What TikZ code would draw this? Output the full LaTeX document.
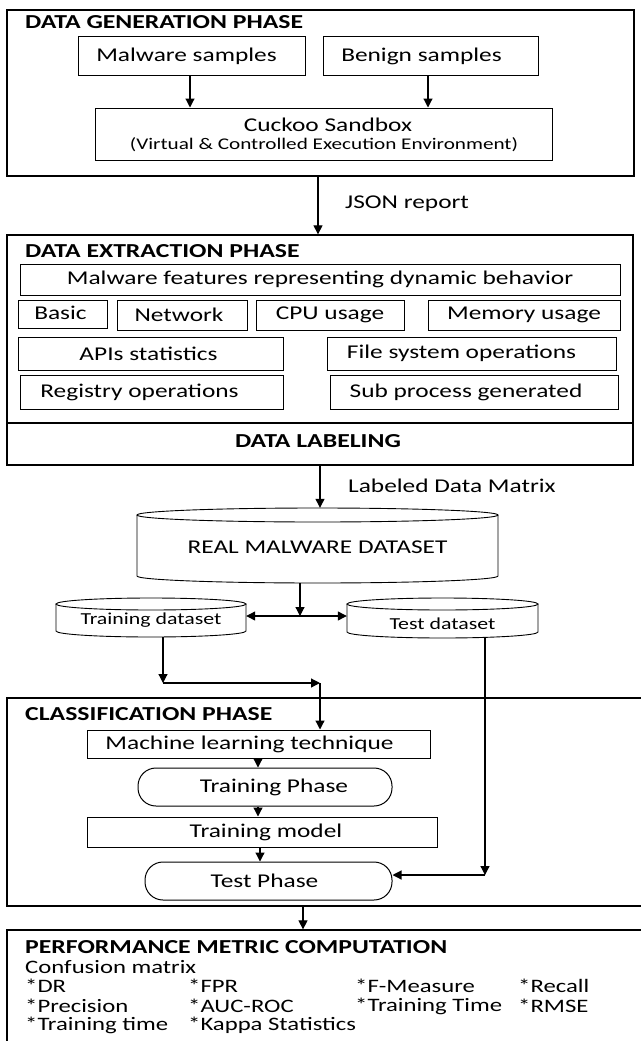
\documentclass[tikz,border=0pt]{standalone}
\usepackage{fontspec}
\setmainfont{Carlito}[FakeStretch=1.3]
\usetikzlibrary{arrows.meta,calc}
\tikzset{
  phasebox/.style={draw, line width=1.3pt, inner sep=0pt},
  itembox/.style={draw, line width=1pt, inner sep=0pt, font=\fontsize{19.5}{21}\selectfont},
  stadium/.style={draw, line width=1pt, inner sep=0pt, rounded corners=18pt, font=\fontsize{19.5}{21}\selectfont},
  ttl/.style={font=\bfseries\fontsize{19.8}{21}\selectfont, anchor=west, inner sep=0pt},
  lbl/.style={font=\fontsize{19.5}{21}\selectfont, anchor=west, inner sep=0pt},
  met/.style={font=\fontsize{19}{21}\selectfont, anchor=west, inner sep=0pt},
  arr/.style={line width=1.2pt, -{Triangle[length=9pt,width=9pt]}},
  cylline/.style={line width=0.9pt},
}
% \boxat{style}{name}{x1}{y1}{x2}{y2}{text}
\newcommand\boxat[7]{\node[#1, minimum width={(#5-#3)*1pt}, minimum height={(#6-#4)*1pt}] (#2) at ({(#3+#5)/2},{(#4+#6)/2}) {#7};}
% \sh{dx}{text} : shift text horizontally inside its box
\newcommand\sh[2]{\hspace*{#1pt}#2\hspace*{-#1pt}}
% \cylat{name}{x1}{y1}{x2}{y2}{ry}{font}{text}{texty}
\newcommand\cylat[9]{%
  \draw[cylline] ({(#2+#4)/2},{#3+#6}) ellipse [x radius={(#4-#2)/2*1pt}, y radius={#6*1pt}];
  \draw[cylline] (#2,{#3+#6}) -- (#2,{#5-#6}) arc [start angle=180, end angle=360, x radius={(#4-#2)/2*1pt}, y radius={#6*1pt}] -- (#4,{#3+#6});
  \node[inner sep=0pt, minimum width={(#4-#2)*1pt}, minimum height={(#5-#3)*1pt}] (#1) at ({(#2+#4)/2},{(#3+#5)/2}) {};
  \node[inner sep=0pt, font=#7] (#1-t) at ({(#2+#4)/2},#9) {#8};
}
\begin{document}
\begin{tikzpicture}[x=1pt,y=-1pt]
\useasboundingbox[fill=white] (0,0) rectangle (640,1041);

% ---------- Data generation phase
\boxat{phasebox}{gen}{7}{10}{634}{176}{}
\node[ttl] (genT) at (25,22) {DATA GENERATION PHASE};
\boxat{itembox}{mal}{78}{37}{305}{75}{\sh{-5}{Malware samples}}
\boxat{itembox}{ben}{323}{37}{538}{75}{\sh{-9}{Benign samples}}
\boxat{itembox}{cuc}{95}{108}{552}{160}{}
\node[inner sep=0pt, font=\fontsize{19.5}{21}\selectfont] (cucA) at (328,125) {Cuckoo Sandbox};
\node[inner sep=0pt, font=\fontsize{16.3}{18}\selectfont] (cucB) at (324,145) {(Virtual \& Controlled Execution Environment)};
\coordinate (malx) at (190,0);
\coordinate (benx) at (428,0);
\draw[arr] (mal.south -| malx) -- (malx |- cuc.north);
\draw[arr] (ben.south -| benx) -- (benx |- cuc.north);

% ---------- JSON report
\coordinate (jx) at (318,0);
\node[lbl] (json) at (345,204) {JSON report};

% ---------- Data extraction phase
\boxat{phasebox}{ext}{7}{235}{633}{465}{}
\draw[arr] (gen.south -| jx) -- (jx |- ext.north);
\node[ttl] (extT) at (25,251) {DATA EXTRACTION PHASE};
\boxat{itembox}{feat}{20}{264}{620}{295}{Malware features representing dynamic behavior}
\boxat{itembox}{basic}{18}{300}{107}{328}{\raisebox{2pt}{\sh{-2}{Basic}}}
\boxat{itembox}{net}{117}{300}{247}{330}{\sh{-3}{Network}}
\boxat{itembox}{cpu}{256}{300}{404}{330}{CPU usage}
\boxat{itembox}{mem}{428}{300}{620}{330}{Memory usage}
\boxat{itembox}{api}{18}{337}{283}{370}{\sh{-2}{APIs statistics}}
\boxat{itembox}{fsys}{327}{337}{616}{370}{\sh{-10}{File system operations}}
\boxat{itembox}{reg}{20}{375}{283}{409}{\sh{-12}{Registry operations}}
\boxat{itembox}{sub}{330}{375}{618}{409}{\sh{-8}{Sub process generated}}
\draw[line width=1.1pt] (ext.west |- 0,423) coordinate (labL) -- (ext.east |- labL);
\node[inner sep=0pt, font=\bfseries\fontsize{19.8}{21}\selectfont] (lab) at (318,441) {DATA LABELING};

% ---------- Labeled data matrix
\coordinate (lx) at (320,0);
\node[lbl] (ldm) at (348,486) {Labeled Data Matrix};

% ---------- Datasets
\cylat{rmd}{137}{508}{498}{583}{7}{\fontsize{19.5}{21}\selectfont}{REAL MALWARE DATASET}{547}
\draw[arr] (ext.south -| lx) -- (lx |- rmd.north);
\cylat{trd}{56}{598}{246}{637}{6}{\fontsize{16.8}{18}\selectfont}{Training dataset}{620}
\cylat{ted}{347}{598}{538}{638}{6}{\fontsize{16.8}{18}\selectfont}{Test dataset}{624}
\coordinate (split) at (300,616);
\draw[arr] (rmd.south -| split) -- (split);
\draw[arr] (split) -- (split -| trd.east);
\draw[arr] (split) -- (split -| ted.west);

% ---------- Classification phase
\boxat{phasebox}{cls}{7}{698}{660}{906}{}
\node[ttl] (clsT) at (25,714) {CLASSIFICATION PHASE};
\boxat{itembox}{ml}{87}{730}{430}{758}{\sh{-9}{Machine learning technique}}
\boxat{stadium}{trp}{138}{768}{392}{806}{\sh{9}{Training Phase}}
\boxat{itembox}{tm}{87}{817}{437}{847}{\sh{4}{Training model}}
\boxat{stadium}{tsp}{145}{862}{392}{900}{\sh{-4}{Test Phase}}
\coordinate (cx1) at (258,0);
\coordinate (cx2) at (260,0);
\draw[arr] (ml.south -| cx1) -- (cx1 |- trp.north);
\draw[arr] (trp.south -| cx1) -- (cx1 |- tm.north);
\draw[arr] (tm.south -| cx2) -- (cx2 |- tsp.north);

% training path
\coordinate (tcorner) at (163,683);
\coordinate (jn) at (320,683);
\draw[arr] (trd.south -| tcorner) -- (tcorner);
\draw[arr] (tcorner) -- (jn);
\draw[arr] (jn) -- (jn |- ml.north);
% test path
\coordinate (tecorner) at (485,875);
\draw[arr] (ted.south -| tecorner) -- (tecorner);
\draw[arr] (tecorner) -- (tecorner -| tsp.east);

% ---------- Performance metric computation
\boxat{phasebox}{perf}{7}{930}{660}{1060}{}
\coordinate (px) at (303,0);
\draw[arr] (cls.south -| px) -- (px |- perf.north);
\node[ttl] (perfT) at (25,947) {PERFORMANCE METRIC COMPUTATION};
\node[met] (cm) at (25,967) {Confusion matrix};
\node[met] (m11) at (25,986) {*DR};
\node[met] (m12) at (188,986) {*FPR};
\node[met] (m13) at (355,986) {*F-Measure};
\node[met] (m14) at (518,986) {*Recall};
\node[met] (m21) at (25,1006) {*Precision};
\node[met] (m22) at (188,1006) {*AUC-ROC};
\node[met] (m23) at (355,1006) {*Training Time};
\node[met] (m24) at (518,1006) {*RMSE};
\node[met] (m31) at (25,1025) {*Training time};
\node[met] (m32) at (188,1025) {*Kappa Statistics};
\end{tikzpicture}
\end{document}
